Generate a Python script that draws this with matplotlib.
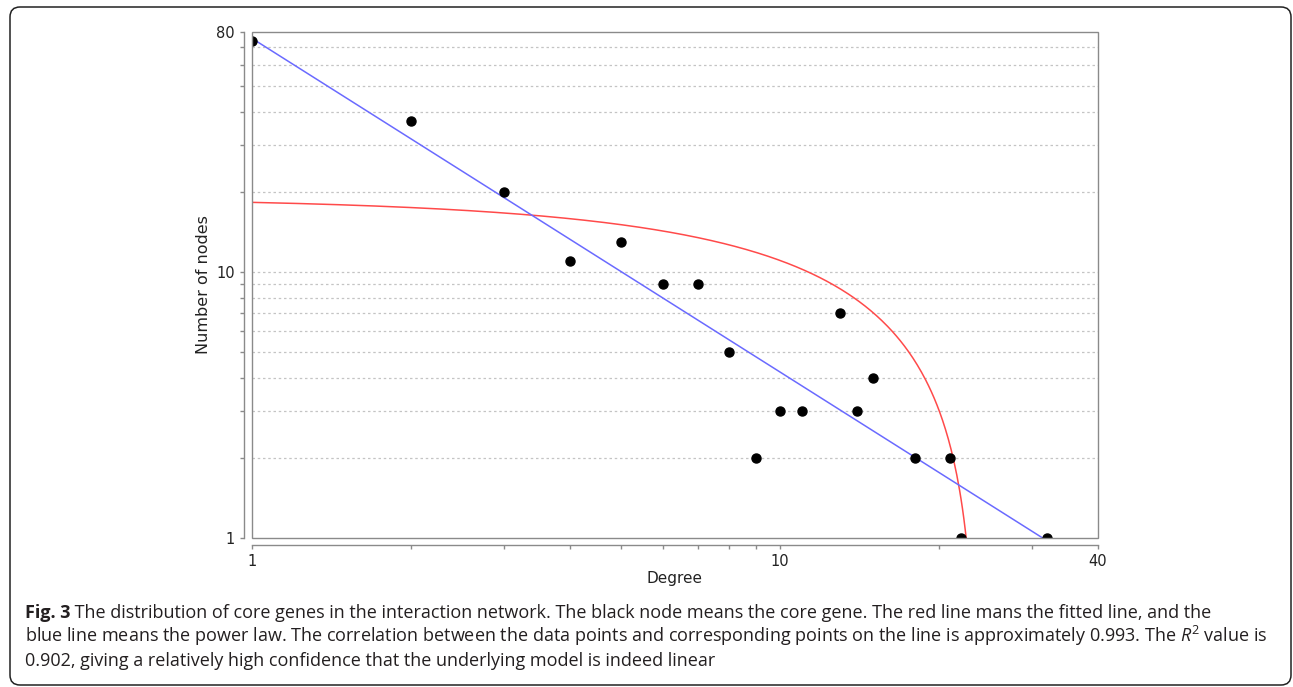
import matplotlib
matplotlib.use("Agg")
import matplotlib.pyplot as plt
import numpy as np
from matplotlib.patches import FancyBboxPatch, Rectangle
from matplotlib.ticker import FixedLocator, NullFormatter, FixedFormatter

# ---------------- data ----------------
degree = [1, 2, 3, 4, 5, 6, 7, 8, 9, 10, 11, 13, 14, 15, 18, 21, 22, 32]
num_nodes = [74, 37, 20, 11, 13, 9, 9, 5, 2, 3, 3, 7, 3, 4, 2, 2, 1, 1]

# fitted line  y = a + b*x   (red)
line_a = 19.1
line_b = -0.804
# power law   y = a * x^b   (blue)
pow_a = 75.7
pow_b = -1.255

x_ticks = [1, 10, 40]
x_minor = [2, 3, 4, 5, 6, 7, 8, 9, 20, 30]
y_ticks = [1, 10, 80]
y_minor = [2, 3, 4, 5, 6, 7, 8, 9, 20, 30, 40, 50, 60, 70]

caption_bold = "Fig. 3"
caption_lines = [
    " The distribution of core genes in the interaction network. The black node means the core gene. The red line mans the fitted line, and the",
    "blue line means the power law. The correlation between the data points and corresponding points on the line is approximately 0.993. The $\\mathit{R}^{2}$ value is",
    "0.902, giving a relatively high confidence that the underlying model is indeed linear",
]

# ---------------- figure ----------------
W, H = 1293, 687
fig = plt.figure(figsize=(W / 100, H / 100), dpi=100)
fig.patch.set_facecolor("white")

plt.rcParams["mathtext.fontset"] = "custom"
plt.rcParams["mathtext.rm"] = "Open Sans"
plt.rcParams["mathtext.it"] = "Open Sans:italic"

# outer rounded frame (inch coordinates for circular corners)
frame = FancyBboxPatch((0.10, 0.02), 12.81, 6.78,
                       boxstyle="round,pad=0,rounding_size=0.10",
                       transform=fig.dpi_scale_trans, fill=False,
                       edgecolor="#222222", linewidth=1.1)
fig.patches.append(frame)

L, R, T, B = 252, 1098, 32, 538
ax = fig.add_axes([L / W, (H - B) / H, (R - L) / W, (B - T) / H])
ax.set_xscale("log")
ax.set_yscale("log")
ax.set_xlim(1, 40)
ax.set_ylim(1, 80)

gray = "#8a8a8a"
for s in ["top", "right"]:
    ax.spines[s].set_visible(False)
ax.spines["left"].set_position(("outward", 6))
ax.spines["bottom"].set_position(("outward", 5))
for s in ["left", "bottom"]:
    ax.spines[s].set_color(gray)
    ax.spines[s].set_linewidth(1.0)

box = Rectangle((0, 0), 1, 1, transform=ax.transAxes, fill=False,
                edgecolor=gray, linewidth=1.0, clip_on=False, zorder=5)
ax.add_patch(box)

ax.xaxis.set_major_locator(FixedLocator(x_ticks))
ax.xaxis.set_major_formatter(FixedFormatter([str(v) for v in x_ticks]))
ax.xaxis.set_minor_locator(FixedLocator(x_minor))
ax.xaxis.set_minor_formatter(NullFormatter())
ax.yaxis.set_major_locator(FixedLocator(y_ticks))
ax.yaxis.set_major_formatter(FixedFormatter([str(v) for v in y_ticks]))
ax.yaxis.set_minor_locator(FixedLocator(y_minor))
ax.yaxis.set_minor_formatter(NullFormatter())

ax.tick_params(which="both", direction="out", length=3, width=1.0,
               color=gray, labelsize=10.5, labelcolor="#222222", pad=3.5)

# horizontal dashed grid
for yv in y_minor + [10]:
    ax.axhline(yv, color="#c4c4c4", linewidth=0.9, linestyle=(0, (2, 2.2)), zorder=1)

# fitted curves
xs = np.logspace(0, np.log10(40), 600)
red_y = line_a + line_b * xs
red_mask = red_y > 0
ax.plot(xs[red_mask], red_y[red_mask], color="#ff4a4a", linewidth=1.1, zorder=3)
ax.plot(xs, pow_a * xs ** pow_b, color="#6a6aff", linewidth=1.1, zorder=3)

ax.plot(degree, num_nodes, linestyle="none", marker="o", markersize=6.5,
        color="black", zorder=4)

ax.set_xlabel("Degree", fontsize=11, color="#222222")
ax.set_ylabel("Number of nodes", fontsize=11.5, color="#222222")
ax.xaxis.label.set_va("center")
ax.yaxis.label.set_va("center")
ax.xaxis.set_label_coords(0.5, (B - 578) / (B - T))
ax.yaxis.set_label_coords((203 - L) / (R - L), 0.5)

# ---------------- caption ----------------
cap_font = "Open Sans"
cap_color = "#231f20"
renderer = fig.canvas.get_renderer()
x0 = 25
targets = [1278, 1265]
base_size = 11.0

tb = fig.text(x0 / W, 0, caption_bold, fontsize=base_size, fontweight="bold",
              family=cap_font, color=cap_color)
bb = tb.get_window_extent(renderer)
t1 = fig.text(bb.x1 / W, 0, caption_lines[0], fontsize=base_size,
              family=cap_font, color=cap_color)
r1 = t1.get_window_extent(renderer).x1
t2 = fig.text(x0 / W, 0, caption_lines[1], fontsize=base_size,
              family=cap_font, color=cap_color)
r2 = t2.get_window_extent(renderer).x1
size = base_size * min((targets[0] - x0) / (r1 - x0), (targets[1] - x0) / (r2 - x0))
tb.remove(); t1.remove(); t2.remove()

baselines = [618, 642, 666]
tb = fig.text(x0 / W, (H - baselines[0]) / H, caption_bold, fontsize=size,
              fontweight="bold", family=cap_font, color=cap_color, va="baseline")
bb = tb.get_window_extent(renderer)
fig.text(bb.x1 / W, (H - baselines[0]) / H, caption_lines[0], fontsize=size,
         family=cap_font, color=cap_color, va="baseline")
for i in (1, 2):
    fig.text(x0 / W, (H - baselines[i]) / H, caption_lines[i], fontsize=size,
             family=cap_font, color=cap_color, va="baseline")

fig.savefig("out.png", dpi=100, facecolor="white")
